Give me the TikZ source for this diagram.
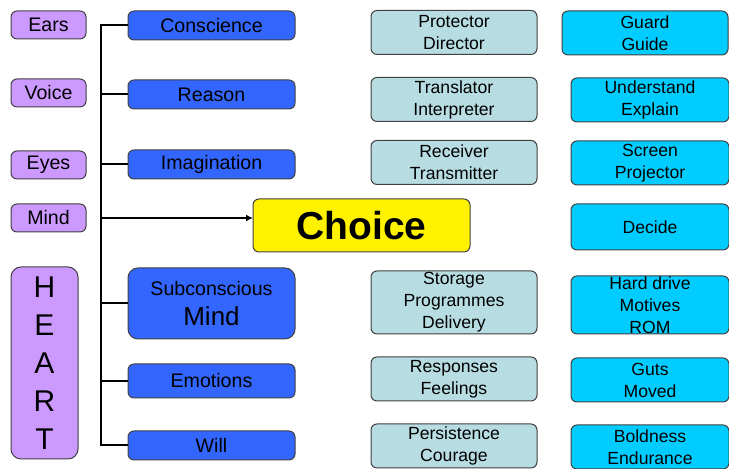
\documentclass[tikz,border=0pt]{standalone}
\usepackage{fontspec}
\setmainfont{Liberation Sans}
\usepackage{tikz}
\usetikzlibrary{positioning, calc}
\usetikzlibrary{arrows.meta}
\definecolor{sensefill}{RGB}{204,153,255}
\definecolor{facultyfill}{RGB}{51,102,255}
\definecolor{rolefill}{RGB}{183,221,226}
\definecolor{actionfill}{RGB}{0,204,255}
\definecolor{boxline}{RGB}{64,64,64}
\tikzstyle{base} = [rectangle, rounded corners=3pt, draw=boxline, line width=0.5pt, inner sep=0pt, outer sep=0pt, align=center, text=black, font=\fontsize{9.8}{11}\selectfont]
\tikzstyle{sense} = [base, minimum width=37.5pt, minimum height=14pt, fill=sensefill]
\tikzstyle{faculty} = [base, minimum width=83.5pt, minimum height=14.5pt, fill=facultyfill]
\tikzstyle{role} = [base, minimum width=83pt, minimum height=22pt, fill=rolefill, font=\fontsize{8.8}{11}\selectfont]
\tikzstyle{action} = [base, minimum width=79pt, minimum height=22pt, fill=actionfill, font=\fontsize{8.8}{11}\selectfont]
\tikzstyle{link} = [line width=1pt]
\tikzstyle{arrow} = [line width=1pt, -{Latex[length=3.5pt, width=3.5pt]}]

\begin{document}
\begin{tikzpicture}[x=0.5pt, y=0.5pt]
            \useasboundingbox (0,0) rectangle (729,469);
            \node (ears) [sense] at (48.5,444) {Ears};
            \node (voice) [sense, below=20pt of ears] {Voice};
            \node (eyes) [sense, below=22pt of voice] {Eyes};
            \node (mind) [sense, below=12.5pt of eyes] {Mind};
            \node (heart) [sense, minimum width=33.5pt, minimum height=96pt, rounded corners=5pt, font=\fontsize{15}{19}\selectfont] at (44.5,106) {H\\E\\A\\R\\T};

            \node (conscience) [faculty] at (211.5,443.5) {Conscience};
            \node (reason) [faculty, below=20pt of conscience] {Reason};
            \node (imagination) [faculty, below=20.5pt of reason] {Imagination};
            \node (subconscious) [faculty, minimum height=35.5pt, rounded corners=5pt, below=44.5pt of imagination] {Subconscious\\[4pt]{\fontsize{13}{14.5}\selectfont Mind}};
            \node (emotions) [faculty, minimum height=17pt, below=12.5pt of subconscious] {Emotions};
            \node (will) [faculty, below=16.5pt of emotions] {Will};

            \node (choice) [base, fill=yellow, minimum width=108.5pt, minimum height=26.5pt, font=\fontsize{19.5}{22}\selectfont\bfseries] at (361.5,243.5) {Choice};

            \node (protector) [role] at (454,436.5) {Protector\\Director};
            \node (translator) [role, below=11.5pt of protector] {Translator\\Interpreter};
            \node (receiver) [role, below=9.5pt of translator] {Receiver\\Transmitter};
            \node (storage) [role, minimum height=31.5pt] at (454,166.5) {Storage\\Programmes\\Delivery};
            \node (responses) [role] at (454,90) {Responses\\Feelings};
            \node (persistence) [role, below=11.5pt of responses] {Persistence\\Courage};

            \node (guard) [action, minimum width=83pt] at (645,436) {Guard\\Guide};
            \node (understand) [action] at (650,369) {Understand\\Explain};
            \node (screen) [action, below=9.5pt of understand] {Screen\\Projector};
            \node (decide) [action, minimum height=23pt, below=9.5pt of screen] {Decide};
            \node (harddrive) [action, minimum height=29pt] at (650,164) {Hard drive\\Motives\\ROM};
            \node (guts) [action] at (650,89) {Guts\\Moved};
            \node (boldness) [action, below=11.5pt of guts] {Boldness\\Endurance};

            \coordinate (trunk) at ($(conscience.west)+(-27,0)$);
            \draw [link] (conscience.west) -- (trunk) |- (will.west);
            \foreach \n in {reason, imagination, subconscious, emotions}
                \draw [link] (\n.west) -- (trunk |- \n.west);
            \draw [arrow] (trunk |- mind) -- (choice.west |- mind);
        \end{tikzpicture}
\end{document}
